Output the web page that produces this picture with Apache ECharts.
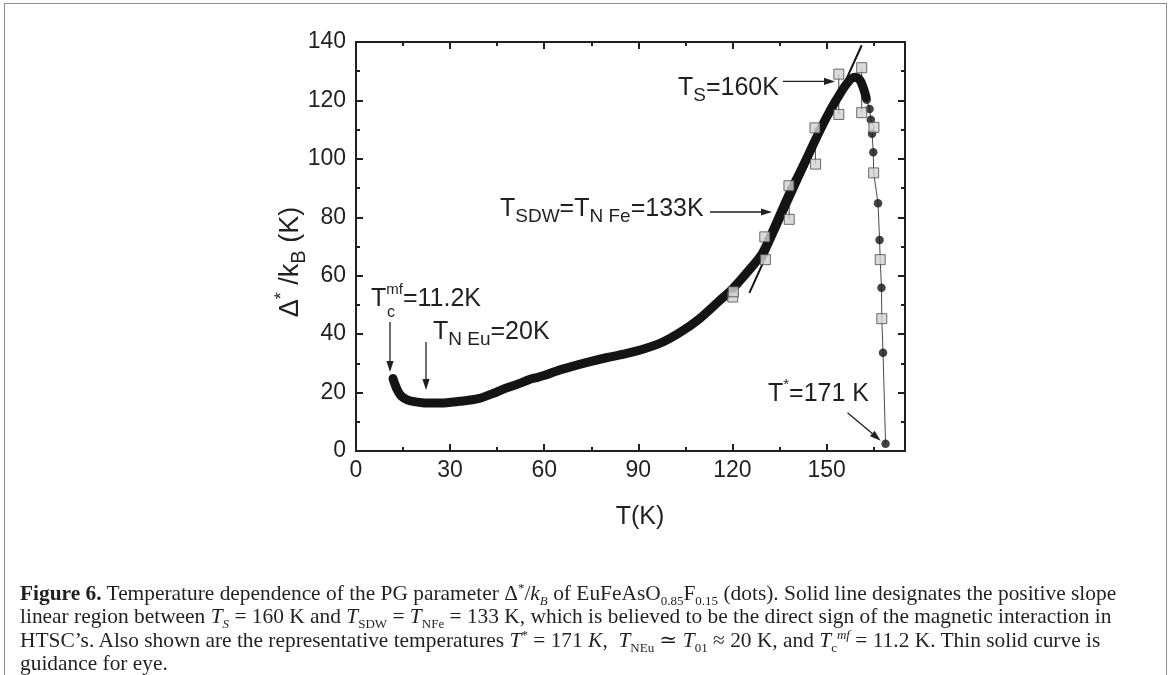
<!DOCTYPE html>
<html>
<head>
<meta charset="utf-8">
<script src="https://cdn.jsdelivr.net/npm/echarts@6/dist/echarts.min.js"></script>
<style>
  html, body { margin: 0; padding: 0; background: #fff; }
  #frame { position: absolute; left: 4px; top: 3px; width: 1161px; height: 720px; border: 1px solid #8c8c8c; }
  #chart { position: absolute; left: 0; top: 0; width: 1170px; height: 675px; }
  #caption {
    position: absolute; left: 20px; top: 582px; width: 1140px;
    font-family: "Liberation Serif", "DejaVu Serif", serif; font-size: 21.4px; line-height: 23.3px; color: #231f20;
    white-space: nowrap;
  }
  #caption sub, #caption sup { font-size: 13px; line-height: 0; }
</style>
</head>
<body>
<div id="frame"></div>
<div id="chart"></div>
<div id="caption">
  <b>Figure 6.</b> Temperature dependence of the PG parameter Δ<sup>*</sup>/<i>k<sub>B</sub></i> of EuFeAsO<sub>0.85</sub>F<sub>0.15</sub> (dots). Solid line designates the positive slope<br>
  linear region between <i>T<sub>S</sub></i> = 160 K and <i>T</i><sub>SDW</sub> = <i>T</i><sub>NFe</sub> = 133 K, which is believed to be the direct sign of the magnetic interaction in<br>
  HTSC’s. Also shown are the representative temperatures <i>T</i><sup>*</sup> = 171 <i>K</i>, &nbsp;<i>T</i><sub>NEu</sub> ≃ <i>T</i><sub>01</sub> ≈ 20 K, and <i>T</i><sub>c</sub><sup><i>mf</i></sup> = 11.2 K. Thin solid curve is<br>
  guidance for eye.
</div>
<script>
// dense dots of delta*/kB (drawn as a thick line)
var curveT = [11.8, 12.3, 13.2, 14.5, 16.5, 19, 22.6, 27, 33, 39, 44.9, 48, 50.8, 53, 55.5, 57, 60.2, 64, 68.4, 74.3, 80.1, 86, 91.9, 97.8, 103.6, 109.5, 115.4, 120.1, 124.8, 129.5, 133, 137.7, 142.4, 145.9, 149.5, 153, 156.5, 158.9, 160.6, 161.8, 162.6];
var curveD = [24.8, 23.2, 20.8, 18.7, 17.4, 16.8, 16.4, 16.4, 17, 17.9, 20.2, 21.6, 22.6, 23.5, 24.6, 25, 25.9, 27.4, 28.8, 30.5, 32, 33.3, 35, 37.3, 40.8, 45.3, 51, 55.6, 61.3, 67.6, 75.6, 87, 97.3, 105.3, 113.2, 120, 125.8, 127.9, 127, 124, 121];
// separate dots on the falling branch
var dropT = [162.8, 163.7, 164.1, 164.5, 164.9, 166.4, 166.9, 167.5, 168.0, 168.8];
var dropD = [120.2, 117.1, 113.4, 108.6, 102.3, 84.8, 72.2, 55.9, 33.6, 2.5];
// grey squares
var sqT = [120.1, 120.3, 130.3, 130.5, 138.0, 138.1, 146.3, 146.5, 153.9, 153.9, 161.2, 161.2, 165.1, 165.0, 167.1, 167.6];
var sqD = [52.7, 54.5, 73.3, 65.5, 90.8, 79.3, 110.6, 98.2, 129.0, 115.2, 131.2, 115.8, 110.8, 95.2, 65.5, 45.3];
// linear region
var fitT = [125.4, 161.2];
var fitD = [54.1, 138.9];
var xTicks = [0, 30, 60, 90, 120, 150];
var yTicks = [0, 20, 40, 60, 80, 100, 120, 140];

function zip(a, b) { return a.map(function (v, i) { return [v, b[i]]; }); }

// thin guide: vertical links between square pairs + falling branch
var guide = [];
for (var i = 0; i < 12; i += 2) {
  guide.push([sqT[i], sqD[i]], [sqT[i + 1], sqD[i + 1]], '-');
}
var fall = zip(dropT, dropD).concat(zip(sqT.slice(12), sqD.slice(12)));
fall.sort(function (a, b) { return b[1] - a[1]; });
guide = guide.concat(fall);

var ink = '#231f20';
var font = '"Liberation Sans", Arial, sans-serif';

var chart = echarts.init(document.getElementById('chart'));

function arrow(x1, y1, x2, y2) {
  var a = Math.atan2(y2 - y1, x2 - x1), L = 11, W = 3.6;
  var bx = x2 - L * Math.cos(a), by = y2 - L * Math.sin(a);
  return [
    { type: 'line', shape: { x1: x1, y1: y1, x2: bx, y2: by }, style: { stroke: ink, lineWidth: 1.3 } },
    { type: 'polygon', shape: { points: [[x2, y2], [bx - W * Math.sin(a), by + W * Math.cos(a)], [bx + W * Math.sin(a), by - W * Math.cos(a)]] }, style: { fill: ink } }
  ];
}

var rich = {
  m: { fontSize: 25, lineHeight: 34, fill: ink, color: ink, fontFamily: font },
  s: { fontSize: 19, lineHeight: 19, verticalAlign: 'bottom', fill: ink, color: ink, fontFamily: font },
  p: { fontSize: 15, lineHeight: 15, verticalAlign: 'top', fill: ink, color: ink, fontFamily: font }
};
function label(x, y, txt) {
  return { type: 'text', x: x, y: y, style: { text: txt, rich: rich, verticalAlign: 'middle', align: 'left', fill: ink, fontFamily: font } };
}

var graphics = [
  label(678, 88, '{m|T}{s|S}{m|=160K}'),
  label(500, 209, '{m|T}{s|SDW}{m|=T}{s|N Fe}{m|=133K}'),
  label(371, 299, '{m|T}{p|mf}{m|=11.2K}'),
  { type: 'text', x: 387, y: 313, style: { text: 'c', fontSize: 16, fill: ink, fontFamily: font, verticalAlign: 'middle' } },
  label(433, 332, '{m|T}{s|N Eu}{m|=20K}'),
  label(768, 394, '{m|T}{p|*}{m|=171 K}'),
  // axis titles
  { type: 'text', x: 640, y: 517, style: { text: 'T(K)', fontSize: 25, fill: ink, fontFamily: font, align: 'center', verticalAlign: 'middle' } },
  {
    type: 'text', x: 291, y: 262, rotation: Math.PI / 2,
    style: {
      text: '{m|Δ}{p|*}{m| /k}{s|B}{m| (K)}', align: 'center', verticalAlign: 'middle', fill: ink, fontFamily: font,
      rich: {
        m: { fontSize: 27, lineHeight: 36, fill: ink, fontFamily: font },
        s: { fontSize: 20, lineHeight: 20, verticalAlign: 'bottom', fill: ink, fontFamily: font },
        p: { fontSize: 18, lineHeight: 18, verticalAlign: 'top', fill: ink, fontFamily: font }
      }
    }
  }
].concat(
  arrow(783, 81.4, 835, 81.4),
  arrow(710, 212, 772, 212),
  arrow(390, 322, 390, 372),
  arrow(426, 342, 426, 390),
  arrow(847.5, 412.7, 880.7, 440.7)
);

function xAx(pos, interval, len, main) {
  return {
    type: 'value', position: pos, min: 0, max: 175, interval: interval,
    axisLine: { show: main, onZero: false, lineStyle: { color: ink, width: 2 } },
    axisTick: { show: true, inside: true, length: len, lineStyle: { color: ink, width: 2 } },
    axisLabel: {
      show: main && pos === 'bottom', showMaxLabel: false, margin: 8, fontSize: 23, color: ink, fontFamily: font,
      formatter: function (v) { return xTicks.indexOf(v) >= 0 ? String(v) : ''; }
    },
    splitLine: { show: false }
  };
}
var xAxes = [xAx('bottom', 30, 7, true), xAx('bottom', 15, 4, false), xAx('top', 30, 7, true), xAx('top', 15, 4, false)];

function yAx(pos, main) {
  return {
    type: 'value', position: pos, min: 0, max: 140, interval: 20,
    axisLine: { show: true, onZero: false, lineStyle: { color: ink, width: 2 } },
    axisTick: { show: true, inside: true, length: 7, lineStyle: { color: ink, width: 2 } },
    minorTick: { show: true, splitNumber: 2, length: 4, lineStyle: { color: ink, width: 2 } },
    axisLabel: {
      show: main, margin: 10, fontSize: 23, color: ink, fontFamily: font,
      formatter: function (v) { return yTicks.indexOf(v) >= 0 ? String(v) : ''; }
    },
    splitLine: { show: false }
  };
}
var yAxes = [yAx('left', true), yAx('right', false)];

chart.setOption({
  animation: false,
  grid: { left: 356, top: 42, width: 549, height: 409, containLabel: false },
  xAxis: xAxes,
  yAxis: yAxes,
  series: [
    {
      type: 'line', data: guide, showSymbol: false, connectNulls: false, z: 1,
      lineStyle: { color: '#4a4a4a', width: 1 }
    },
    {
      type: 'line', data: zip(curveT, curveD), smooth: 0.3, showSymbol: false, z: 2,
      lineStyle: { color: '#141414', width: 9, cap: 'round', join: 'round' }
    },
    {
      type: 'line', data: zip(fitT, fitD), showSymbol: false, z: 3,
      lineStyle: { color: '#141414', width: 2 }
    },
    {
      type: 'scatter', data: zip(dropT, dropD), symbolSize: 8.5, z: 3,
      itemStyle: { color: '#141414' }
    },
    {
      type: 'scatter', data: zip(sqT, sqD), symbol: 'rect', symbolSize: 10, z: 4,
      itemStyle: { color: '#d2d2d2', borderColor: '#4a4a4a', borderWidth: 1 }
    }
  ],
  graphic: graphics
});
</script>
</body>
</html>
